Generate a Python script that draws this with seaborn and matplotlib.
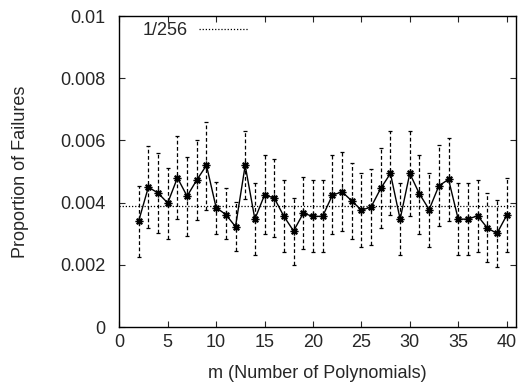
import matplotlib
matplotlib.use("Agg")
import matplotlib.pyplot as plt
import seaborn as sns
import numpy as np
import pandas as pd

# values
m_values = list(range(2, 41))
proportion = [3.41, 4.50, 4.31, 3.99, 4.80, 4.21, 4.73, 5.20, 3.84, 3.62,
              3.23, 5.20, 3.47, 4.25, 4.15, 3.56, 3.09, 3.66, 3.56, 3.56,
              4.24, 4.35, 4.06, 3.76, 3.86, 4.46, 4.94, 3.47, 4.94, 4.28,
              3.78, 4.54, 4.75, 3.47, 3.47, 3.58, 3.19, 3.01, 3.59]
err_high = [4.54, 5.82, 5.59, 5.12, 6.16, 5.47, 6.03, 6.60, 4.67, 4.46,
            4.03, 6.32, 4.62, 5.53, 5.41, 4.72, 4.15, 4.83, 4.72, 4.72,
            5.53, 5.63, 5.29, 4.97, 5.07, 5.75, 6.31, 4.62, 6.31, 5.52,
            4.96, 5.87, 6.09, 4.62, 4.62, 4.74, 4.31, 4.08, 4.78]
err_low = [2.26, 3.19, 3.01, 2.83, 3.46, 2.93, 3.44, 3.78, 2.98, 2.82,
           2.45, 4.11, 2.33, 2.99, 2.90, 2.40, 1.99, 2.50, 2.40, 2.40,
           2.99, 3.08, 2.82, 2.56, 2.64, 3.17, 3.60, 2.32, 3.58, 2.99,
           2.56, 3.25, 3.42, 2.32, 2.32, 2.40, 2.08, 1.92, 2.42]
baseline = 1 / 256
y_ticks = [0, 0.002, 0.004, 0.006, 0.008, 0.01]
y_tick_labels = ["0", "0.002", "0.004", "0.006", "0.008", "0.01"]
x_ticks = [0, 5, 10, 15, 20, 25, 30, 35, 40]

df = pd.DataFrame({
    "m": m_values,
    "p": np.array(proportion) / 1000,
    "hi": np.array(err_high) / 1000,
    "lo": np.array(err_low) / 1000,
})

sns.set_style("ticks")
plt.rcParams["font.family"] = ["Liberation Sans", "DejaVu Sans"]
fs = 13

fig = plt.figure(figsize=(5.21, 3.83), dpi=100)
ax = fig.add_axes([0.229, 0.146, 0.762, 0.812])

# error bars (dashed)
eb = ax.errorbar(df["m"], df["p"],
                 yerr=[df["p"] - df["lo"], df["hi"] - df["p"]],
                 fmt="none", ecolor="black", elinewidth=0.9,
                 capsize=1.5, capthick=0.9)
eb[2][0].set_linestyle((0, (3, 2)))

sns.lineplot(data=df, x="m", y="p", ax=ax, color="black", linewidth=1.0,
             marker=(8, 2, 0), markersize=5.5, markeredgewidth=1.0,
             markeredgecolor="black")

ax.axhline(baseline, color="black", linestyle=(0, (1, 1.5)), linewidth=0.9,
           label="1/256")

ax.set_xlim(0, 41)
ax.set_ylim(0, 0.01)
ax.set_xticks(x_ticks)
ax.set_yticks(y_ticks)
ax.set_yticklabels(y_tick_labels)
ax.tick_params(axis="both", direction="in", top=True, right=True, length=4,
               width=0.8, labelsize=fs)
ax.tick_params(axis="y", pad=10)
ax.tick_params(axis="x", pad=5)
for s in ax.spines.values():
    s.set_visible(True)
    s.set_linewidth(1.0)
    s.set_color("black")

ax.set_xlabel("m (Number of Polynomials)", fontsize=fs, labelpad=10)
ax.set_ylabel("Proportion of Failures", fontsize=fs, labelpad=22)

leg = ax.legend(loc="upper left", bbox_to_anchor=(0.023, 1.026),
                frameon=False, markerfirst=False,
                handlelength=2.8, handletextpad=0.6, fontsize=fs,
                borderaxespad=0.2, borderpad=0.6)

fig.savefig("out.png", dpi=100)
